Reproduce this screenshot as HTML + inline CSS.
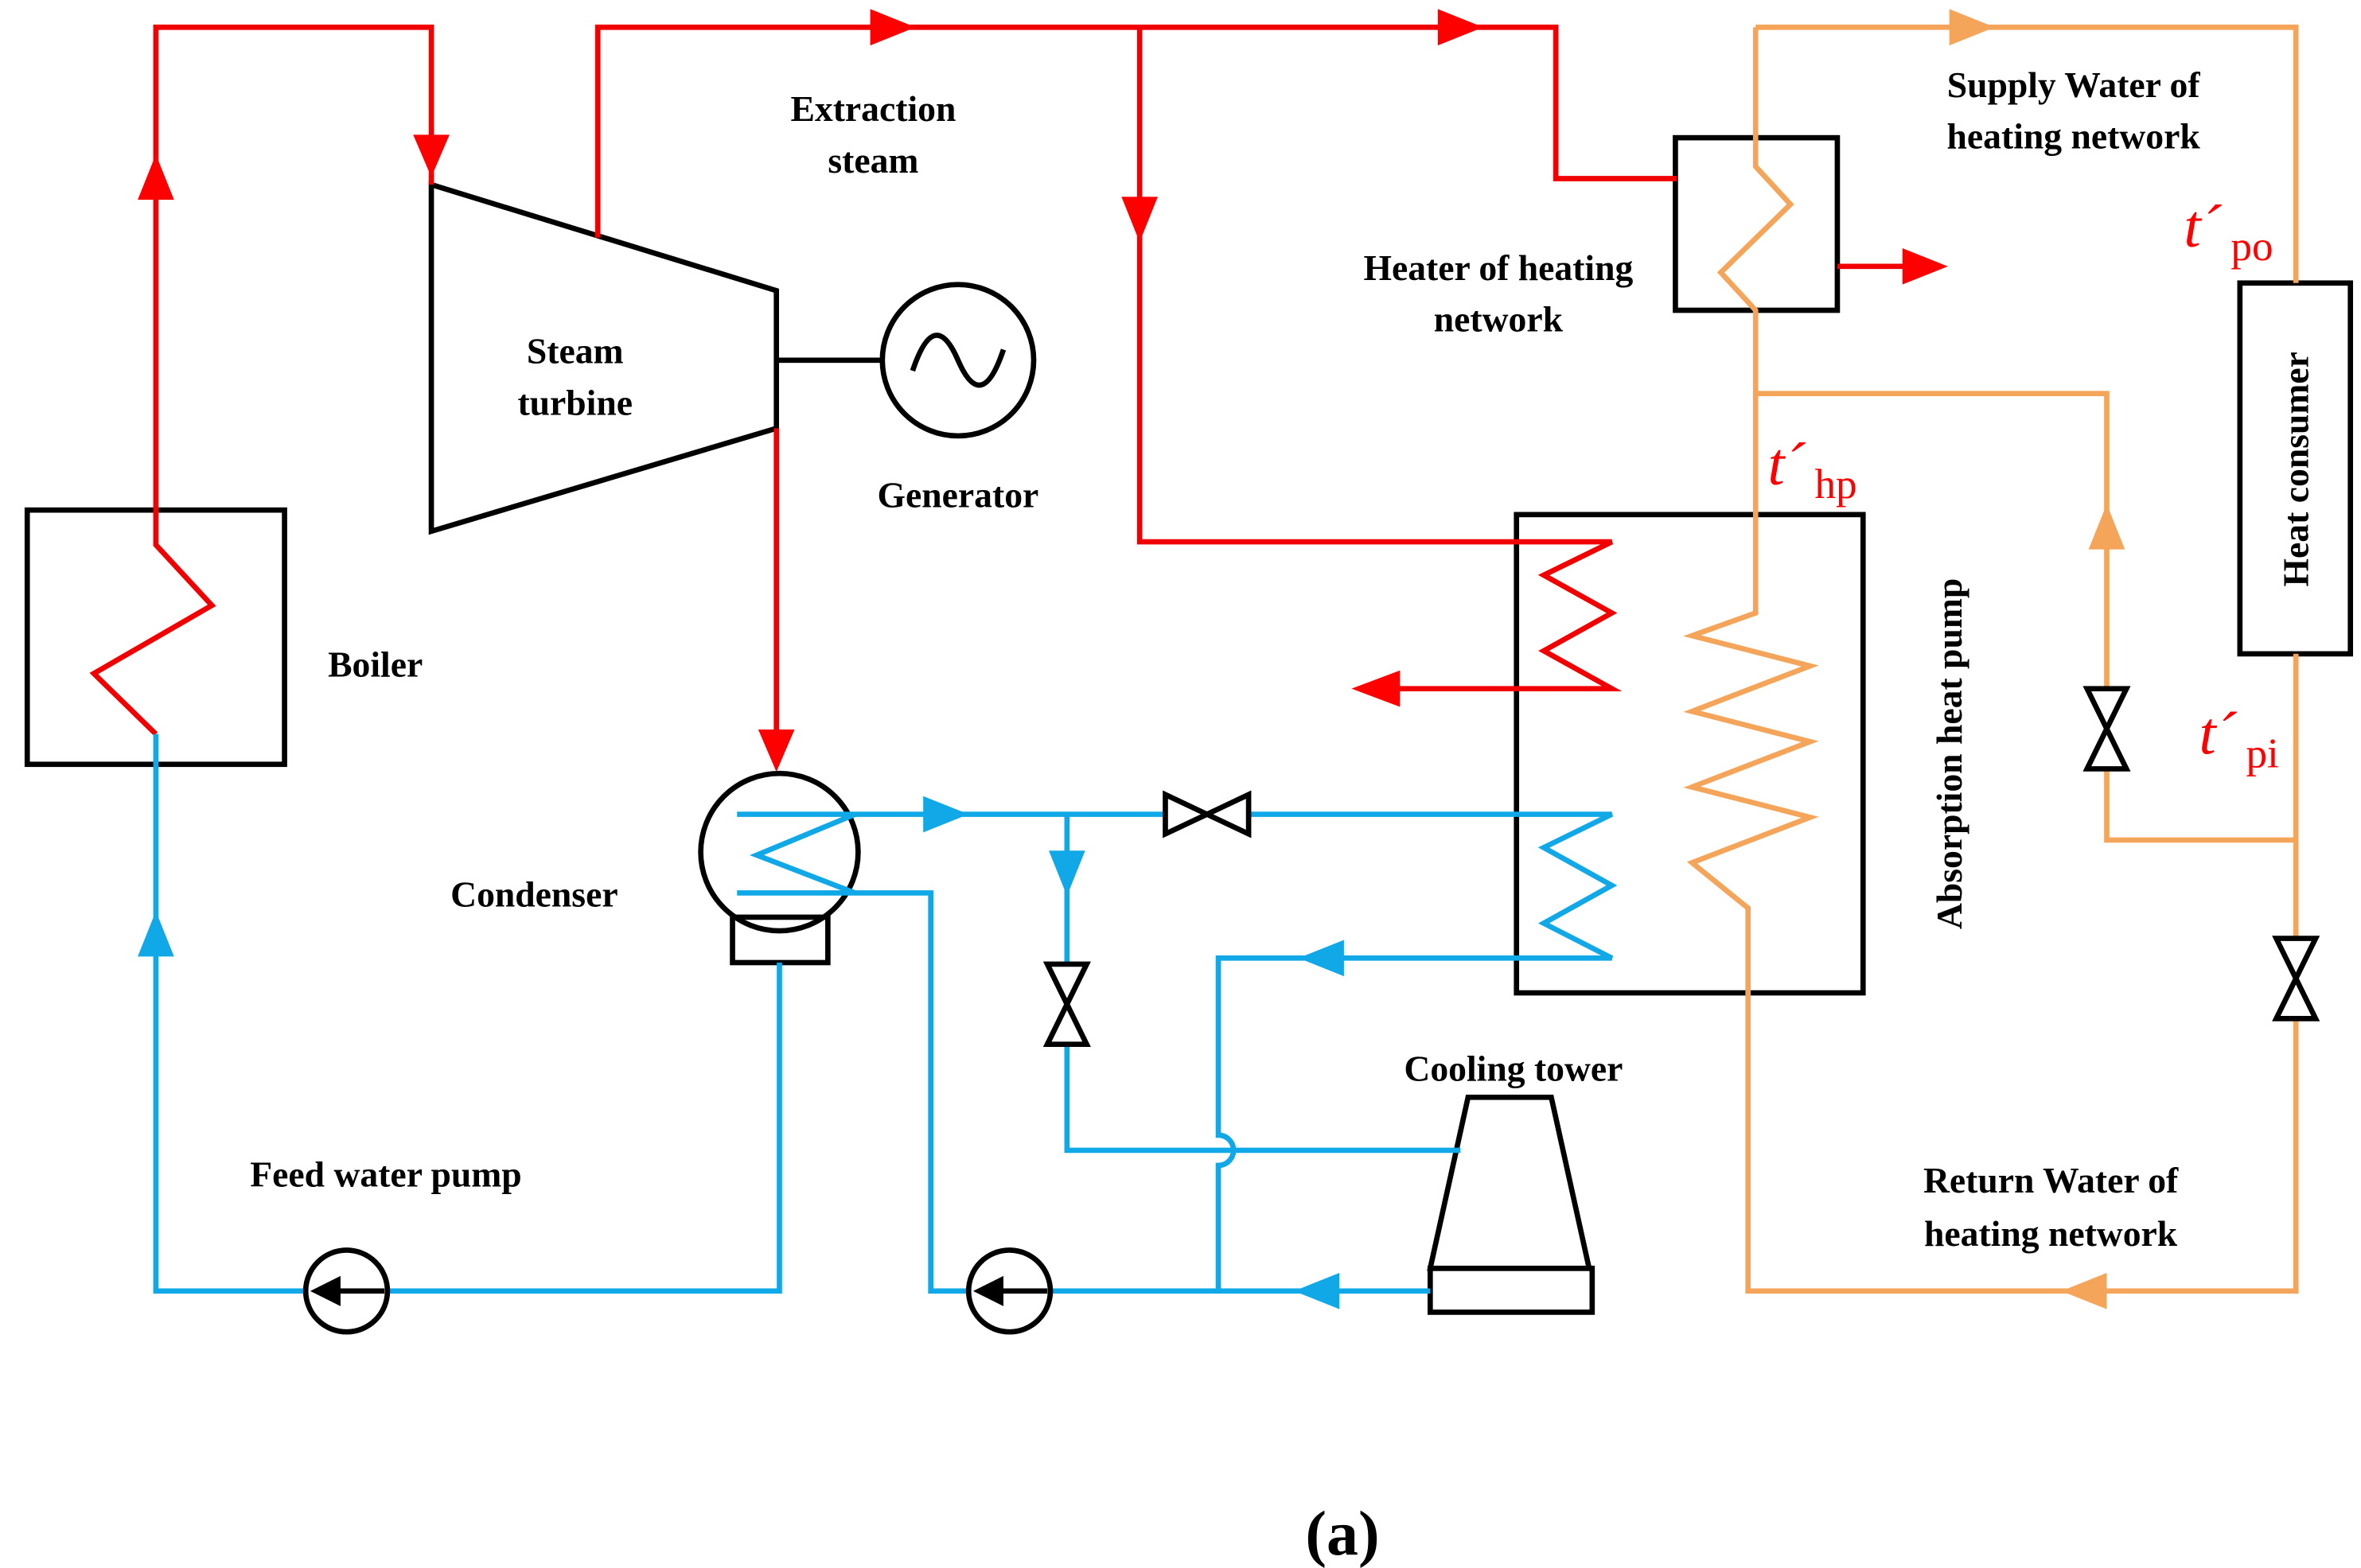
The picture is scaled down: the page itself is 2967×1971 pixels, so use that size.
<!DOCTYPE html>
<html><head><meta charset="utf-8"><style>
html,body{margin:0;padding:0;background:#fff;}
svg{display:block;}
text{font-family:"Liberation Serif",serif;font-weight:bold;font-size:24px;fill:#000;}
.r{stroke:#f00001;fill:none;stroke-width:3.5}
.b{stroke:#10a8e6;fill:none;stroke-width:3.5}
.o{stroke:#f5a55a;fill:none;stroke-width:3.5}
.k{stroke:#000;fill:none;stroke-width:3.5}
.t{fill:#f00;font-style:italic;font-weight:normal;font-size:40px}
.s{fill:#f00;font-weight:normal;font-size:28px}
</style></head><body>
<svg width="2967" height="1971" viewBox="0 0 1560 1036" preserveAspectRatio="none" xmlns="http://www.w3.org/2000/svg">
<!-- black shapes -->
<rect x="18" y="337" width="170" height="168" class="k"/>
<polygon points="285,122 513,192 513,283 285,351" class="k"/>
<line x1="513" y1="238" x2="583" y2="238" class="k"/>
<circle cx="633" cy="238" r="50" class="k"/>
<path d="M603,245 C613,215 623,215 633,238 C643,261 653,261 663,231" class="k"/>
<rect x="1107" y="91" width="107" height="114" class="k"/>
<rect x="1480" y="187" width="73" height="245" class="k"/>
<rect x="1002" y="340" width="229" height="316" class="k"/>
<circle cx="515" cy="563" r="52" class="k"/>
<rect x="484" y="606" width="63" height="30" class="k"/>
<polygon points="970,725 1025,725 1050,838 945,838" class="k"/>
<rect x="945" y="838" width="107" height="29" class="k"/>

<!-- red -->
<path d="M103,485 L62,445 L140,400 L103,360 L103,18 L285,18 L285,122" class="r"/>
<path d="M395,157 L395,18 L1028,18 L1028,118 L1108,118" class="r"/>
<path d="M753,18 L753,358 L1065,358 L1020,380 L1065,405 L1020,430 L1065,455 L910,455" class="r"/>
<path d="M513,283 L513,495" class="r"/>
<line x1="1214" y1="176" x2="1265" y2="176" class="r"/>
<g fill="#f00">
<polygon points="103,102 91,132 115,132"/>
<polygon points="285,117 273,89 297,89"/>
<polygon points="605,18 575,6 575,30"/>
<polygon points="980,18 950,6 950,30"/>
<polygon points="753,160 741,130 765,130"/>
<polygon points="893,455 925,443 925,467"/>
<polygon points="513,510 501,482 525,482"/>
<polygon points="1287,176 1257,164 1257,188"/>
</g>

<!-- orange -->
<path d="M1160,18 L1160,110 L1183,135 L1137,180 L1160,205 L1160,405 L1118,420 L1196,440 L1118,470 L1196,490 L1118,520 L1196,540 L1118,570 L1155,600 L1155,853 L1517,853 L1517,432" class="o"/>
<path d="M1160,18 L1517,18 L1517,187" class="o"/>
<path d="M1160,260 L1392,260 L1392,555 L1517,555" class="o"/>
<g fill="#f5a55a">
<polygon points="1318,18 1288,6 1288,30"/>
<polygon points="1362,853 1392,841 1392,865"/>
<polygon points="1392,333 1380,363 1404,363"/>
</g>

<!-- blue -->
<path d="M103,485 L103,853 L515,853 L515,636" class="b"/>
<path d="M487,538 L565,538 L500,565 L565,590 L487,590" class="b"/>
<path d="M565,538 L1065,538 L1020,560 L1065,585 L1020,610 L1065,633 L805,633 L805,750 A10,10 0 0 1 805,770 L805,853" class="b"/>
<path d="M565,590 L615,590 L615,853 L945,853" class="b"/>
<path d="M705,538 L705,760 L965,760" class="b"/>
<g fill="#10a8e6">
<polygon points="103,602 91,632 115,632"/>
<polygon points="640,538 610,526 610,550"/>
<polygon points="858,633 888,621 888,645"/>
<polygon points="705,592 693,562 717,562"/>
<polygon points="855,853 885,841 885,865"/>
</g>

<!-- pumps -->
<g fill="#fff" stroke="#000" stroke-width="3.5">
<circle cx="229" cy="853" r="27"/><circle cx="667" cy="853" r="27"/>
</g>
<g stroke="#000" stroke-width="3.5"><line x1="212" y1="853" x2="254" y2="853"/><line x1="650" y1="853" x2="692" y2="853"/></g>
<polygon points="205,853 225,843 225,863" fill="#000"/>
<polygon points="643,853 663,843 663,863" fill="#000"/>

<!-- valves -->
<g fill="#fff" stroke="#000" stroke-width="3.5">
<polygon points="770,525 825,551 825,525 770,551"/>
<polygon points="692,637 718,690 692,690 718,637"/>
<polygon points="1379,455 1405,508 1379,508 1405,455"/>
<polygon points="1504,620 1530,673 1504,673 1530,620"/>
</g>

<!-- labels -->
<g text-anchor="middle">
<text x="577" y="80">Extraction</text><text x="577" y="114">steam</text>
<text x="380" y="240">Steam</text><text x="380" y="274">turbine</text>
<text x="633" y="335">Generator</text>
<text x="248" y="447">Boiler</text>
<text x="353" y="599">Condenser</text>
<text x="255" y="784">Feed water pump</text>
<text x="1000" y="714">Cooling tower</text>
<text x="990" y="185">Heater of heating</text><text x="990" y="219">network</text>
<text x="1370" y="64">Supply Water of</text><text x="1370" y="98">heating network</text>
<text x="1355" y="788">Return Water of</text><text x="1355" y="823">heating network</text>
<text transform="translate(1296,498) rotate(-90)">Absorption heat pump</text>
<text transform="translate(1525,310) rotate(-90)">Heat consumer</text>
<text x="887" y="1027" style="font-size:42px">(a)</text>
</g>
<text class="t" x="1443" y="163">t´</text><text class="s" x="1474" y="172">po</text>
<text class="t" x="1168" y="320">t´</text><text class="s" x="1199" y="329">hp</text>
<text class="t" x="1453" y="498">t´</text><text class="s" x="1484" y="507">pi</text>
</svg>
</body></html>
